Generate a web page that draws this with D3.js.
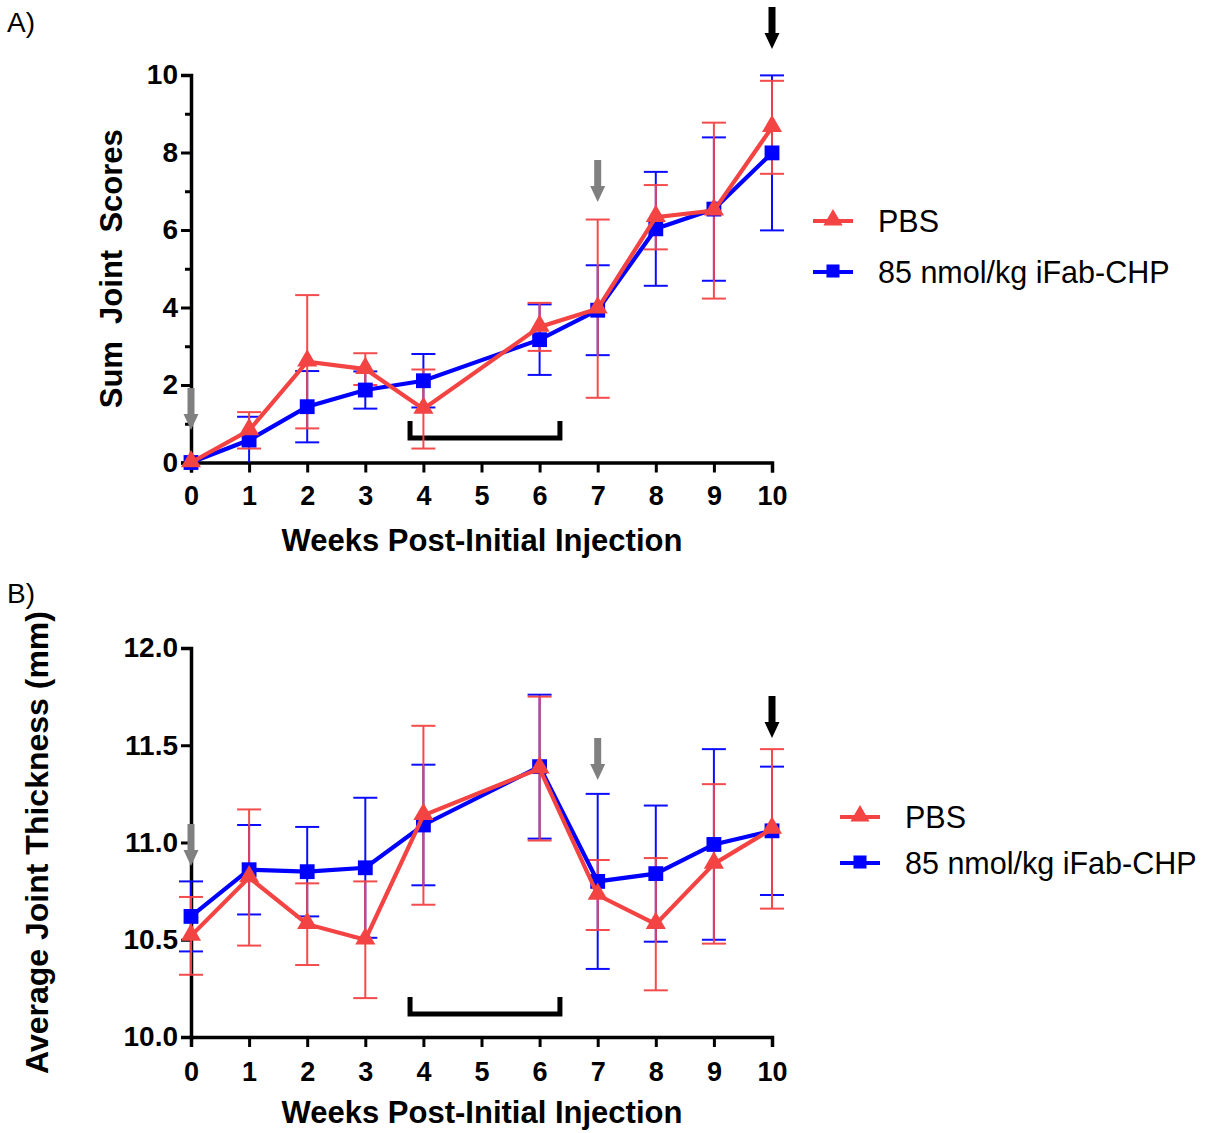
<!DOCTYPE html>
<html><head><meta charset="utf-8">
<script src="https://cdn.jsdelivr.net/npm/d3@7"></script>
<style>body{margin:0;background:#fff}svg{display:block;font-family:"Liberation Sans",Arial,sans-serif}</style>
</head><body>
<script>
const weeks = [0,1,2,3,4,6,7,8,9,10];
const xTicks = [0,1,2,3,4,5,6,7,8,9,10];
const seriesNames = ["PBS","85 nmol/kg iFab-CHP"];
// Panel A: Sum joint scores
const scorePBS     = [0,0.83,2.60,2.41,1.38,3.50,3.97,6.33,6.50,8.65];
const scorePBSErr  = [0,0.47,1.72,0.41,1.02,0.62,2.30,0.83,2.27,1.20];
const scoreCHP     = [0,0.58,1.44,1.87,2.11,3.17,3.93,6.03,6.54,7.99];
const scoreCHPErr  = [0,0.60,0.92,0.48,0.69,0.91,1.16,1.47,1.85,2.00];
const scoreTicks = [0,2,4,6,8,10];
const scoreMinor = [1,3,5,7,9];
// Panel B: Average joint thickness (mm)
const thickPBS     = [10.52,10.82,10.58,10.50,11.14,11.38,10.73,10.58,10.89,11.07];
const thickPBSErr  = [0.20,0.35,0.21,0.30,0.46,0.37,0.18,0.34,0.41,0.41];
const thickCHP     = [10.62,10.86,10.85,10.87,11.09,11.39,10.80,10.84,10.99,11.06];
const thickCHPErr  = [0.18,0.23,0.23,0.36,0.31,0.37,0.45,0.35,0.49,0.33];
const thickTicks = [10.0,10.5,11.0,11.5,12.0];
// annotations
const grayArrowWeeks = [0,7];
const blackArrowWeeks = [10];
const bracketRange = [3.77,6.35];

const RED = "#f44343", BLUE = "#0000ff";
const svg = d3.select("body").append("svg").attr("width",1215).attr("height",1133);

function panel(cfg){
  const x = d3.scaleLinear().domain([0,10]).range([191,772]);
  const y = d3.scaleLinear().domain(cfg.domain).range(cfg.range);
  const g = svg.append("g");
  // panel letter
  g.append("text").attr("x",7).attr("y",cfg.letterY).attr("font-size",28).text(cfg.letter);
  // y axis
  const ya = g.append("g").attr("transform","translate(191,0)")
    .call(d3.axisLeft(y).tickValues(cfg.ticks).tickFormat(cfg.fmt).tickSizeOuter(0).tickSize(10).tickPadding(3));
  if(cfg.minor){
    g.append("g").attr("transform","translate(191,0)")
      .call(d3.axisLeft(y).tickValues(cfg.minor).tickFormat("").tickSizeOuter(0).tickSize(6))
      .call(a=>a.select(".domain").remove())
      .selectAll("line").attr("stroke","#000").attr("stroke-width",3);
  }
  // x axis
  const xa = g.append("g").attr("transform",`translate(0,${cfg.range[0]})`)
    .call(d3.axisBottom(x).tickValues(xTicks).tickFormat(d3.format("d")).tickSizeOuter(0).tickSize(10).tickPadding(cfg.xPad));
  [ya,xa].forEach((a,k)=>{
    a.select(".domain").attr("stroke","#000").attr("stroke-width",3.5);
    a.selectAll(".tick line").attr("stroke","#000").attr("stroke-width",3);
    a.selectAll("text").attr("font-size",k===0?28:27).attr("font-weight","bold").attr("fill","#000")
      .attr("font-family","'Liberation Sans',Arial,sans-serif");
  });
  // axis titles
  g.append("text").attr("x",482).attr("y",cfg.range[0]+cfg.titleOff).attr("text-anchor","middle")
    .attr("font-size",31).attr("font-weight","bold").text("Weeks Post-Initial Injection");
  g.append("text").attr("transform",`translate(${cfg.yLabelX},${(cfg.range[0]+cfg.range[1])/2}) rotate(-90)`)
    .attr("text-anchor","middle").attr("font-size",cfg.yLabelSize).attr("font-weight","bold")
    .attr("xml:space","preserve").style("white-space","pre").text(cfg.yLabel);
  // bracket
  const by = cfg.bracketY;
  g.append("path").attr("fill","none").attr("stroke","#000").attr("stroke-width",5)
    .attr("stroke-linejoin","miter")
    .attr("d",`M${x(bracketRange[0])},${by-17}V${by}H${x(bracketRange[1])}V${by-17}`);
  // arrows
  function arrow(wk,top,color){
    const cx = x(wk), len = 42;
    g.append("path").attr("fill",color)
      .attr("d",`M${cx-3.5},${top}H${cx+3.5}V${top+len-16}H${cx+7.5}L${cx},${top+len}L${cx-7.5},${top+len-16}H${cx-3.5}Z`);
  }
  grayArrowWeeks.forEach((w,i)=>arrow(w,cfg.grayTops[i],"#808080"));
  blackArrowWeeks.forEach((w,i)=>arrow(w,cfg.blackTops[i],"#000"));
  // series: blue first, red on top
  const series = [
    {vals:cfg.chp, err:cfg.chpErr, color:BLUE, sym:d3.symbolSquare, size:220},
    {vals:cfg.pbs, err:cfg.pbsErr, color:RED, sym:d3.symbolTriangle, size:175}
  ];
  const floor = cfg.domain[0];
  series.forEach(s=>{
    const eg = g.append("g").attr("stroke",s.color).attr("stroke-width",2).attr("opacity",0.95);
    weeks.forEach((w,i)=>{
      if(!s.err[i]) return;
      const lo = Math.max(floor, s.vals[i]-s.err[i]), hi = s.vals[i]+s.err[i];
      eg.append("line").attr("x1",x(w)).attr("x2",x(w)).attr("y1",y(lo)).attr("y2",y(hi));
      eg.append("line").attr("x1",x(w)-12).attr("x2",x(w)+12).attr("y1",y(hi)).attr("y2",y(hi));
      if(lo>floor) eg.append("line").attr("x1",x(w)-12).attr("x2",x(w)+12).attr("y1",y(lo)).attr("y2",y(lo));
    });
  });
  series.forEach(s=>{
    g.append("path").datum(weeks.map((w,i)=>[w,s.vals[i]]))
      .attr("fill","none").attr("stroke",s.color).attr("stroke-width",4.2)
      .attr("d",d3.line().x(d=>x(d[0])).y(d=>y(d[1])));
    g.selectAll(null).data(weeks.map((w,i)=>[w,s.vals[i]])).enter().append("path")
      .attr("transform",d=>`translate(${x(d[0])},${y(d[1]) + (s.sym===d3.symbolTriangle?-1:0)})`)
      .attr("d",d3.symbol().type(s.sym).size(s.size)).attr("fill",s.color);
  });
  // legend
  const lg = g.append("g").attr("transform",`translate(${cfg.legX},${cfg.legY})`);
  [[RED,d3.symbolTriangle,160,seriesNames[0]],[BLUE,d3.symbolSquare,170,seriesNames[1]]].forEach((d,i)=>{
    const yy = i*cfg.legGap;
    lg.append("line").attr("x1",0).attr("x2",40).attr("y1",yy).attr("y2",yy).attr("stroke",d[0]).attr("stroke-width",4);
    lg.append("path").attr("transform",`translate(20,${yy-1})`).attr("d",d3.symbol().type(d[1]).size(d[2])).attr("fill",d[0]);
    lg.append("text").attr("x",65).attr("y",yy+11).attr("font-size",30.5).text(d[3]);
  });
}

panel({letter:"A)",letterY:32,domain:[0,10],range:[462.5,75],ticks:scoreTicks,minor:scoreMinor,fmt:d3.format("d"),
  pbs:scorePBS,pbsErr:scorePBSErr,chp:scoreCHP,chpErr:scoreCHPErr,yLabel:"Sum  Joint  Scores",yLabelX:122,yLabelSize:31,
  xPad:13,titleOff:88,
  bracketY:438,grayTops:[388,160],blackTops:[7],legX:813,legY:221,legGap:51});
panel({letter:"B)",letterY:603,domain:[10,12],range:[1037,648],ticks:thickTicks,minor:null,fmt:d3.format(".1f"),
  pbs:thickPBS,pbsErr:thickPBSErr,chp:thickCHP,chpErr:thickCHPErr,yLabel:"Average Joint Thickness (mm)",yLabelX:48,yLabelSize:32,
  xPad:15,titleOff:86,
  bracketY:1014,grayTops:[824,738],blackTops:[696],legX:840,legY:817,legGap:46});
</script>
</body></html>
